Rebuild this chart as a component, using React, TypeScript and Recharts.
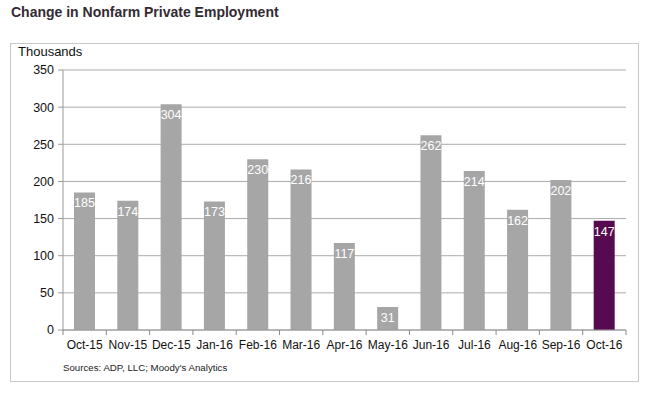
import { Bar, BarChart, CartesianGrid, Cell, LabelList, XAxis, YAxis } from "recharts"

const months = ["Oct-15", "Nov-15", "Dec-15", "Jan-16", "Feb-16", "Mar-16", "Apr-16", "May-16", "Jun-16", "Jul-16", "Aug-16", "Sep-16", "Oct-16"]
const jobs = [185, 174, 304, 173, 230, 216, 117, 31, 262, 214, 162, 202, 147]
const yTicks = [0, 50, 100, 150, 200, 250, 300, 350]

const data = months.map((m, i) => ({ name: m, value: jobs[i] }))

const W = 651
const H = 395
const PLOT_LEFT = 63
const PLOT_RIGHT = 626
const step = (PLOT_RIGHT - PLOT_LEFT) / months.length
const font = "Arial, 'Liberation Sans', sans-serif"

const XTick = (props: any) => {
  const { x, y, payload, index } = props
  const last = index === months.length - 1
  return (
    <g>
      <line x1={x - step / 2} x2={x - step / 2} y1={y} y2={y + 5} stroke="#888" />
      {last && <line x1={x + step / 2} x2={x + step / 2} y1={y} y2={y + 5} stroke="#888" />}
      <text x={x} y={y + 18.5} textAnchor="middle" fontSize={12} fill="#111" fontFamily={font}>
        {payload.value}
      </text>
    </g>
  )
}

export default function App() {
  return (
    <div style={{ position: "fixed", left: 0, top: 0, width: W, height: H, background: "#fff", fontFamily: font }}>
      <div style={{ position: "absolute", left: 11, top: 4, fontSize: 14, fontWeight: "bold", color: "#332a33" }}>
        Change in Nonfarm Private Employment
      </div>
      <div style={{ position: "absolute", left: 10, top: 43, width: 629, height: 339, border: "1px solid #c8c8c8", boxSizing: "border-box" }} />
      <div style={{ position: "absolute", left: 18, top: 44, fontSize: 13, color: "#111" }}>Thousands</div>
      <div style={{ position: "absolute", left: 63, top: 362, fontSize: 9.7, color: "#222" }}>
        Sources: ADP, LLC; Moody's Analytics
      </div>
      <div style={{ position: "absolute", left: 0, top: 0 }}>
        <BarChart
          width={W}
          height={H}
          data={data}
          margin={{ top: 70, right: W - PLOT_RIGHT, left: PLOT_LEFT - 50, bottom: 35 }}
          barSize={21}
        >
          <CartesianGrid vertical={false} stroke="#aaa" />
          <XAxis
            dataKey="name"
            height={30}
            tickLine={false}
            tickSize={0}
            tickMargin={0}
            axisLine={{ stroke: "#999" }}
            tick={<XTick />}
            interval={0}
          />
          <YAxis
            width={50}
            domain={[0, 350]}
            ticks={yTicks}
            tickSize={5}
            tickMargin={4}
            axisLine={{ stroke: "#999" }}
            tickLine={{ stroke: "#999" }}
            tick={{ fontSize: 12.5, fill: "#111", fontFamily: font }}
          />
          <Bar dataKey="value" isAnimationActive={false}>
            {data.map((d, i) => (
              <Cell key={d.name} fill={i === data.length - 1 ? "#560a4f" : "#a6a6a6"} />
            ))}
            <LabelList dataKey="value" position="insideTop" offset={6} fill="#fff" fontSize={12.5} fontFamily={font} />
          </Bar>
        </BarChart>
      </div>
    </div>
  )
}
